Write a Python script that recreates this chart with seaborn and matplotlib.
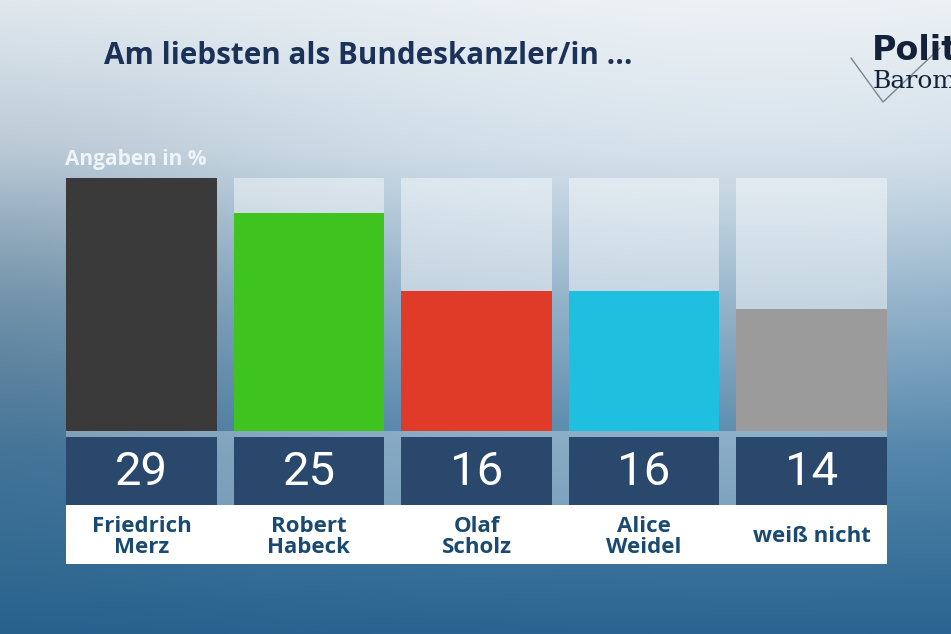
import numpy as np
import matplotlib.pyplot as plt
import matplotlib.colors as mcolors
import seaborn as sns

# Werte aus dem Politbarometer
kandidaten = ["Friedrich\nMerz", "Robert\nHabeck", "Olaf\nScholz", "Alice\nWeidel", "weiß nicht"]
werte = [29, 25, 16, 16, 14]
farben = ["#3a3a3a", "#3fc31f", "#e03b28", "#1fc0df", "#9b9b9b"]

titel = "Am liebsten als Bundeskanzler/in ..."
einheit = "Angaben in %"

W, H = 951, 634
sns.set_theme(style="white")
plt.rcParams['font.family'] = ['Open Sans', 'DejaVu Sans']

fig = plt.figure(figsize=(W / 100, H / 100), dpi=100)

# Hintergrund mit Farbverlauf
bg = fig.add_axes([0, 0, 1, 1])
bg.axis('off')
yy, xx = np.mgrid[0:H, 0:W]
stops_y = [0, 150, 300, 450, 634]
stops_c = [mcolors.to_rgb(c) for c in ["#e2eaf0", "#c4d5e2", "#80a5c0", "#4a7fa6", "#27638f"]]
img = np.zeros((H, W, 3))
for k in range(3):
    col = np.interp(yy[:, 0], stops_y, [c[k] for c in stops_c])
    img[:, :, k] = col[:, None]
glow = np.exp(-((xx - 760) ** 2 / 500.0 ** 2 + (yy - 30) ** 2 / 330.0 ** 2)) * 0.35
img = img + (1 - img) * glow[:, :, None]
dark = np.exp(-((xx - 0) ** 2 / 250.0 ** 2 + (yy - 330) ** 2 / 220.0 ** 2)) * 0.12
img = img * (1 - dark[:, :, None])
bg.imshow(np.clip(img, 0, 1), extent=[0, W, H, 0], aspect='auto')
bg.set_xlim(0, W)
bg.set_ylim(H, 0)

# Titel, Einheit, Logo
bg.text(104, 56, titel, fontsize=21.3, fontweight='bold', color="#1b3158", va='center', ha='left')
bg.text(65, 160, einheit, fontsize=15, fontweight='bold', color="#eef4f8", va='center', ha='left')
bg.text(872, 51, "Polit", fontsize=24, fontweight='bold', color="#14213a", va='center', ha='left',
        family=['DejaVu Sans'])
bg.text(873, 82, "Barometer", fontsize=18, color="#14213a", va='center', ha='left',
        family=['DejaVu Serif'])
bg.plot([851, 883, 940], [58, 102, 48], color="#7a8590", lw=1.0)

# Balken
x0, x1, y_top, y_base = 66, 887, 178, 431
ax = fig.add_axes([x0 / W, 1 - y_base / H, (x1 - x0) / W, (y_base - y_top) / H])
ax.patch.set_alpha(0)
sns.barplot(x=kandidaten, y=[max(werte)] * len(werte), color="white", alpha=0.45,
            width=0.9, saturation=1, linewidth=0, ax=ax)
sns.barplot(x=kandidaten, y=werte, hue=kandidaten, palette=farben,
            width=0.9, saturation=1, linewidth=0, legend=False, ax=ax)
ax.set_xlim(-0.45, len(werte) - 0.55)
ax.set_ylim(0, max(werte))
ax.axis('off')

# Zahlen- und Namensfelder
y_low = 564
ax2 = fig.add_axes([x0 / W, 1 - y_low / H, (x1 - x0) / W, (y_low - y_base) / H])
ax2.patch.set_alpha(0)
ax2.set_xlim(-0.45, len(werte) - 0.55)
ax2.set_ylim(y_low - y_base, 0)
ax2.axhspan(0, 74, color="white", alpha=0.3, lw=0)
ax2.bar(range(len(werte)), 68, bottom=6, width=0.9, color="#29486c", linewidth=0)
ax2.axhspan(74, y_low - y_base, color="white", lw=0)
for i, (name, v) in enumerate(zip(kandidaten, werte)):
    ax2.text(i, 41, str(v), ha='center', va='center', fontsize=34, color="white",
             fontweight='normal', family=['Roboto', 'DejaVu Sans'])
    ax2.text(i, 106, name, ha='center', va='center', fontsize=16, fontweight='bold',
             color="#1a4a72", linespacing=1.0)
ax2.axis('off')

fig.savefig("out.png", dpi=100)
